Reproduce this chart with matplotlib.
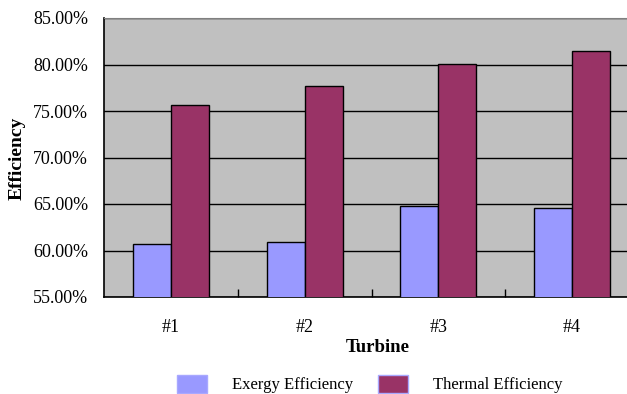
import matplotlib
matplotlib.use("Agg")
import matplotlib.pyplot as plt
import numpy as np
from matplotlib.ticker import FuncFormatter
from matplotlib.patches import Patch

# values
turbines = ["#1", "#2", "#3", "#4"]
exergy_eff = [60.7, 60.95, 64.8, 64.6]
thermal_eff = [75.6, 77.65, 80.05, 81.5]
series_names = ["Exergy Efficiency", "Thermal Efficiency"]

plt.rcParams['font.family'] = ['Liberation Serif', 'DejaVu Serif']
plt.rcParams['font.size'] = 13

fig = plt.figure(figsize=(6.27, 3.94), dpi=100)
# plot area runs past the right edge like in the cropped original
ax = fig.add_axes([104 / 627, 97 / 394, 535 / 627, 279 / 394])
ax.set_facecolor('#C0C0C0')

x = np.arange(len(turbines))
w = 0.285
ax.bar(x - w / 2, exergy_eff, w, color='#9999FF', edgecolor='black', linewidth=1, zorder=3)
ax.bar(x + w / 2, thermal_eff, w, color='#993366', edgecolor='black', linewidth=1, zorder=3)

ax.set_xlim(-0.5, len(turbines) - 0.5)
ax.set_ylim(55, 85)
ax.set_yticks(np.arange(55, 86, 5))
ax.yaxis.set_major_formatter(FuncFormatter(lambda v, p: "%.2f%%" % v))
ax.yaxis.grid(True, color='black', linewidth=1, zorder=1)
ax.set_axisbelow(True)
ax.tick_params(axis='y', length=0, pad=11.5)

ax.set_xticks(x)
ax.set_xticklabels(turbines)
ax.set_xticks(np.arange(0.5, len(turbines) - 0.5, 1), minor=True)
ax.tick_params(axis='x', which='major', length=0, pad=15.5)
ax.tick_params(axis='x', which='minor', direction='in', length=6, width=1)

for side in ['left', 'bottom']:
    ax.spines[side].set_color('black')
    ax.spines[side].set_linewidth(1.2)
ax.spines['top'].set_color('#808080')
ax.spines['right'].set_visible(False)

ax.set_xlabel("Turbine", fontweight='bold', fontsize=13.5)
ax.xaxis.label.set_va('center')
ax.xaxis.set_label_coords((378 - 104) / 535, (297 - 348) / 279)
fig.text(17 / 627, 1 - 158 / 394, "Efficiency", rotation=90, fontweight='bold',
         fontsize=14, ha='center', va='center')

handles = [Patch(facecolor='#9999FF', edgecolor='#A8A8FF'),
           Patch(facecolor='#993366', edgecolor='#A8A8FF')]
fig.legend(handles, series_names, loc='center', ncol=2, frameon=False, fontsize=12,
           bbox_to_anchor=(370 / 627, 1 - 384 / 394),
           handlelength=1.8, handleheight=1.3, handletextpad=1.5,
           columnspacing=1.5)

fig.savefig("out.png", dpi=100)
